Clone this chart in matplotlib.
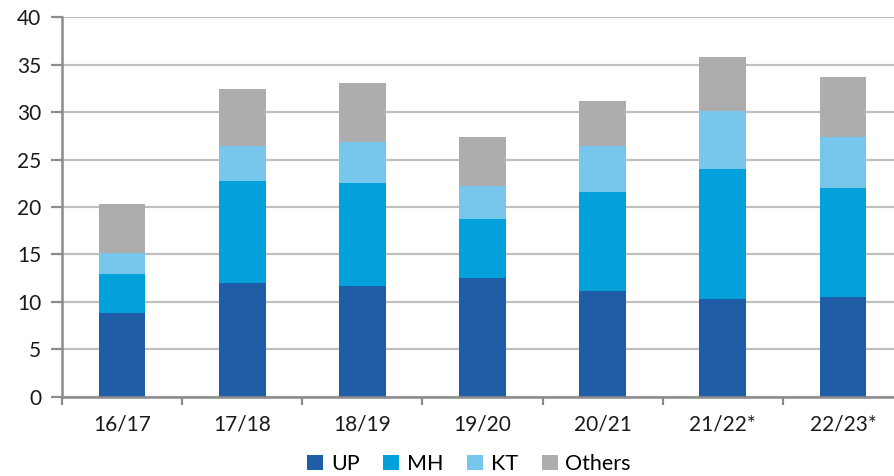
import numpy as np
import matplotlib
matplotlib.use('Agg')
import matplotlib.pyplot as plt

plt.rcParams['font.family'] = ['Lato', 'DejaVu Sans']

seasons = ['16/17', '17/18', '18/19', '19/20', '20/21', '21/22*', '22/23*']
up = [8.8, 12.0, 11.7, 12.55, 11.1, 10.25, 10.55]
mh = [4.15, 10.7, 10.85, 6.2, 10.5, 13.75, 11.45]
kt = [2.2, 3.75, 4.3, 3.5, 4.85, 6.1, 5.4]
others = [5.15, 5.95, 6.2, 5.15, 4.75, 5.7, 6.3]

series = [('UP', up, '#1f5ea6'), ('MH', mh, '#02a1dc'),
          ('KT', kt, '#76c7eb'), ('Others', others, '#adadad')]

fig = plt.figure(figsize=(8.95, 4.76), dpi=100)
ax = fig.add_axes([62 / 895, 79.3 / 476, 841 / 895, 379.4 / 476])

x = np.arange(len(seasons))
bottom = np.zeros(len(seasons))
for name, vals, col in series:
    ax.bar(x, vals, width=0.39, bottom=bottom, color=col, label=name, zorder=3)
    bottom += np.array(vals)

ax.set_xlim(-0.5, len(seasons) - 0.5)
ax.set_ylim(0, 40)
ax.set_yticks(range(0, 41, 5))
ax.yaxis.grid(True, color='#c0c0c0', linewidth=1.6, zorder=0)

# category labels centred, tick marks between categories
ax.set_xticks(x)
ax.set_xticklabels(seasons)
ax.set_xticks(np.arange(-0.5, len(seasons) + 0.5, 1), minor=True)
ax.tick_params(axis='x', which='major', length=0, pad=13)
ax.tick_params(axis='x', which='minor', length=6, width=1.6, color='#8c8c8c')
ax.tick_params(axis='y', length=8, width=1.6, color='#8c8c8c', pad=7)
ax.tick_params(labelsize=15, labelcolor='#1a1a1a')

for s in ['top', 'right']:
    ax.spines[s].set_visible(False)
for s in ['left', 'bottom']:
    ax.spines[s].set_color('#8c8c8c')
    ax.spines[s].set_linewidth(1.8)
    ax.spines[s].set_zorder(4)

fig.legend(loc='center', bbox_to_anchor=(469 / 895, 1 - 464 / 476), ncol=4,
           frameon=False, fontsize=15.5, handlelength=0.75, handleheight=0.75,
           handletextpad=0.35, columnspacing=1.1, borderpad=0.2)

fig.savefig('out.png', dpi=100)
